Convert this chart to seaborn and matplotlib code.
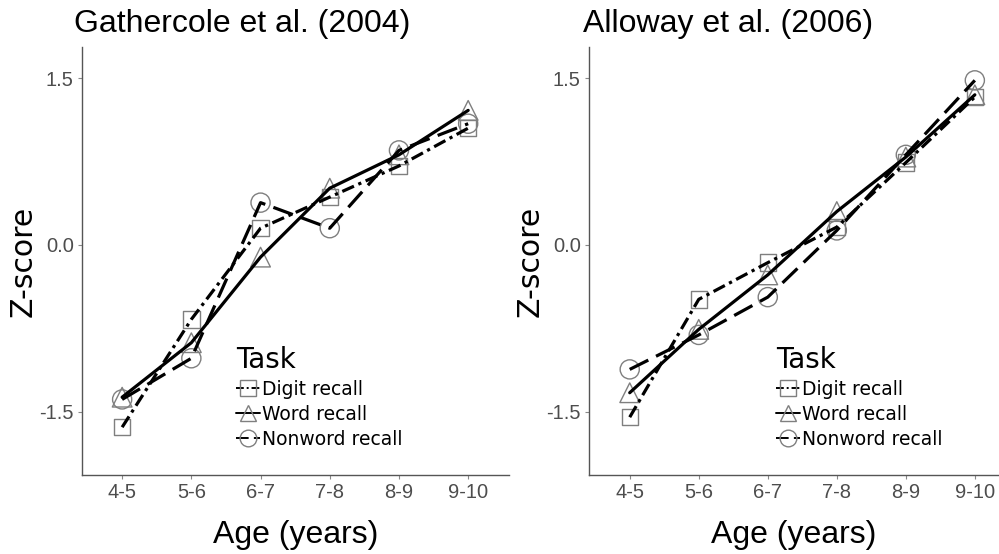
import matplotlib
matplotlib.use("Agg")
import matplotlib.pyplot as plt
from matplotlib.lines import Line2D
import seaborn as sns
import pandas as pd

ages = ["4-5", "5-6", "6-7", "7-8", "8-9", "9-10"]
tasks = ["Digit recall", "Word recall", "Nonword recall"]

# Gathercole et al. (2004)
g_digit = [-1.64, -0.67, 0.15, 0.43, 0.71, 1.05]
g_word = [-1.37, -0.88, -0.11, 0.51, 0.81, 1.21]
g_nonword = [-1.39, -1.02, 0.38, 0.15, 0.85, 1.09]

# Alloway et al. (2006)
a_digit = [-1.55, -0.49, -0.16, 0.16, 0.74, 1.33]
a_word = [-1.33, -0.76, -0.27, 0.30, 0.79, 1.35]
a_nonword = [-1.12, -0.81, -0.47, 0.13, 0.81, 1.48]

titles = ["Gathercole et al. (2004)", "Alloway et al. (2006)"]
yticks = [-1.5, 0.0, 1.5]


def make_df(d, w, n):
    rows = []
    for task, vals in zip(tasks, [d, w, n]):
        for i, (a, v) in enumerate(zip(ages, vals)):
            rows.append({"pos": i, "Age": a, "Task": task, "Z": v})
    return pd.DataFrame(rows)


dfs = [make_df(g_digit, g_word, g_nonword), make_df(a_digit, a_word, a_nonword)]

sns.set_theme(style="white")
plt.rcParams["text.color"] = "black"
plt.rcParams["axes.labelcolor"] = "black"
SANS = ["Liberation Sans", "DejaVu Sans"]
DEJ = ["DejaVu Sans"]

markers = {"Digit recall": "s", "Word recall": "^", "Nonword recall": "o"}
msizes = {"Digit recall": 140, "Word recall": 200, "Nonword recall": 190}
dashes = {"Digit recall": (4, 1.5, 1, 1.5), "Word recall": "", "Nonword recall": (6.5, 2.7)}
palette = {t: "black" for t in tasks}
mgrey = "#7f7f7f"
tgrey = "#4d4d4d"

fig = plt.figure(figsize=(9.99, 5.54), dpi=100)
axes_rect = [
    [82 / 999, 1 - 475 / 554, 427 / 999, 428 / 554],
    [589 / 999, 1 - 475 / 554, 410 / 999, 428 / 554],
]
xlims = [(-0.58, 5.59), (-0.59, 5.35)]
legend_x = [0.36, 0.456]

for k, (df, title) in enumerate(zip(dfs, titles)):
    ax = fig.add_axes(axes_rect[k])
    for t in tasks:
        sub = df[df["Task"] == t]
        ax.scatter(sub["pos"], sub["Z"], marker=markers[t], s=msizes[t],
                   facecolors="none", edgecolors=mgrey, linewidths=1.0, zorder=2)
    sns.lineplot(data=df, x="pos", y="Z", hue="Task", style="Task",
                 dashes=dashes, palette=palette, linewidth=2.3,
                 legend=False, ax=ax, zorder=3, sort=False)
    ax.set_xlim(*xlims[k])
    ax.set_ylim(-2.07, 1.78)
    ax.set_xticks(range(len(ages)))
    ax.set_xticklabels(ages)
    ax.set_yticks(yticks)
    ax.set_yticklabels([f"{v:.1f}" for v in yticks])
    for lab in ax.get_xticklabels() + ax.get_yticklabels():
        lab.set_family(SANS)
        lab.set_fontsize(14.5)
        lab.set_color(tgrey)
    ax.tick_params(axis="both", length=3, width=0.8, color="#888888",
                   bottom=True, left=True, pad=3)
    for s in ["top", "right"]:
        ax.spines[s].set_visible(False)
    for s in ["left", "bottom"]:
        ax.spines[s].set_color("#555555")
        ax.spines[s].set_linewidth(1.0)
    ax.set_xlabel("Age (years)", family=SANS, fontsize=23, color="black", labelpad=13)
    ax.set_ylabel("Z-score", family=DEJ, fontsize=21.5, color="black", labelpad=1)
    ax.set_title(title, family=SANS, fontsize=23, loc="left", pad=11, color="black",
                 x=-0.019 if k == 0 else -0.015)

    handles = []
    for t in tasks:
        handles.append(Line2D([], [], color="black", linewidth=1.4,
                              linestyle=(0, dashes[t]) if dashes[t] else "-",
                              marker=markers[t], markersize=12,
                              markerfacecolor="none", markeredgecolor=mgrey,
                              markeredgewidth=1.0))
    leg = ax.legend(handles, tasks, title="Task", loc="upper left",
                    bbox_to_anchor=(legend_x[k], 0.302), frameon=False,
                    prop={"family": DEJ, "size": 13.5},
                    title_fontproperties={"family": DEJ, "size": 20},
                    handlelength=1.3, handletextpad=0.1, labelspacing=0.32,
                    borderpad=0, borderaxespad=0, alignment="left",
                    labelcolor="black")
    leg.get_title().set_color("black")

fig.savefig("out.png", dpi=100)
